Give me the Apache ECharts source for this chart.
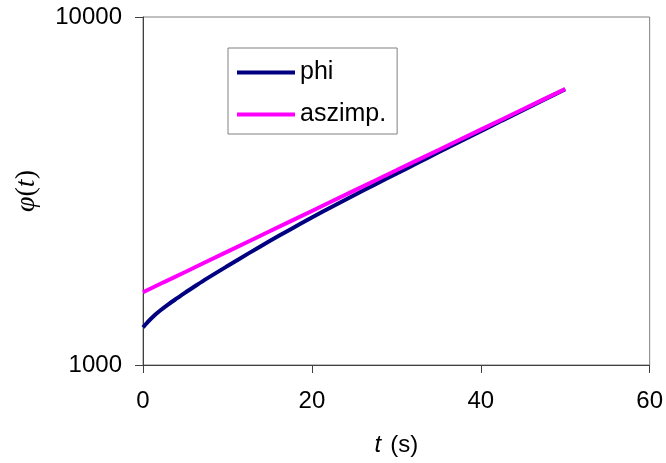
<!DOCTYPE html>
<html><head><meta charset="utf-8">
<script src="https://cdn.jsdelivr.net/npm/echarts@6/dist/echarts.min.js"></script>
<style>html,body{margin:0;padding:0;background:#fff}#c{width:666px;height:463px}</style>
</head><body><div id="c"></div>
<script>
const tValues = [0, 0.5, 1, 1.5, 2, 3, 4, 5, 6, 7.5, 10, 12.5, 15, 17.5, 20, 22.5, 25, 27.5, 30, 32.5, 35, 37.5, 40, 42.5, 45, 47.5, 50];
const phiValues = [1283, 1324, 1362, 1398, 1432, 1494, 1554, 1615, 1675, 1768, 1925, 2093, 2270, 2457, 2654, 2858, 3074, 3303, 3545, 3807, 4086, 4382, 4699, 5039, 5400, 5787, 6199];
const aszimpT = [0, 2.5, 5, 7.5, 10, 12.5, 15, 17.5, 20, 22.5, 25, 27.5, 30, 32.5, 35, 37.5, 40, 42.5, 45, 47.5, 50];
const aszimpValues = [1618, 1731, 1851, 1980, 2117, 2265, 2422, 2591, 2771, 2964, 3170, 3391, 3626, 3879, 4148, 4437, 4745, 5076, 5429, 5807, 6211];
const seriesNames = ['phi', 'aszimp.'];
const yTickLabels = { 1000: '1000', 10000: '10000' };

const chart = echarts.init(document.getElementById('c'));
const font = 'Arial, "Liberation Sans", sans-serif';
const serif = '"Liberation Serif", "DejaVu Serif", serif';
chart.setOption({
  animation: false,
  backgroundColor: '#fff',
  textStyle: { fontFamily: font, color: '#000' },
  grid: { left: 143, right: 14, top: 17, bottom: 98, show: true, borderColor: '#808080', borderWidth: 1, backgroundColor: '#fff' },
  legend: {
    left: 228, top: 48, orient: 'vertical',
    data: seriesNames,
    icon: 'rect', itemWidth: 58, itemHeight: 4, itemGap: 17,
    padding: [12, 11, 7, 9],
    borderColor: '#808080', borderWidth: 1, backgroundColor: '#fff',
    textStyle: { fontFamily: font, fontSize: 25, color: '#000', lineHeight: 25 }
  },
  xAxis: {
    type: 'value', min: 0, max: 60, interval: 20,
    axisLine: { lineStyle: { color: '#404040', width: 1 } },
    axisTick: { show: true, inside: false, length: 8, lineStyle: { color: '#404040' } },
    splitLine: { show: false },
    axisLabel: { fontSize: 24, color: '#000', margin: 24, fontFamily: font },
    name: '{i|t}{n|(s)}', nameLocation: 'middle', nameGap: 68,
    nameTextStyle: { rich: { i: { fontSize: 24, fontStyle: 'italic', fontFamily: font, color: '#000', padding: [0, 9, 0, 0] }, n: { fontSize: 24, fontFamily: font, color: '#000' } } }
  },
  yAxis: {
    type: 'log', logBase: 10, min: 1000, max: 10000,
    axisLine: { lineStyle: { color: '#404040', width: 1 } },
    axisTick: { show: true, inside: false, length: 8, lineStyle: { color: '#404040' } },
    minorTick: { show: false },
    splitLine: { show: false },
    axisLabel: { fontSize: 24, color: '#000', margin: 21, fontFamily: font,
      formatter: v => yTickLabels[Math.round(v)] || String(Math.round(v)) },
    name: '{g|φ}{n|(}{i|t}{n|)}', nameLocation: 'middle', nameGap: 102, nameRotate: 90,
    nameTextStyle: { rich: {
      g: { fontSize: 28, fontStyle: 'italic', fontFamily: serif, color: '#000' },
      i: { fontSize: 28, fontStyle: 'italic', fontFamily: serif, color: '#000' },
      n: { fontSize: 28, fontFamily: serif, color: '#000' } } }
  },
  series: [
    { name: seriesNames[0], type: 'line', symbol: 'none', smooth: 0.3, color: '#000080',
      lineStyle: { color: '#000080', width: 4 },
      data: tValues.map((t, i) => [t, phiValues[i]]) },
    { name: seriesNames[1], type: 'line', symbol: 'none', color: '#FF00FF',
      lineStyle: { color: '#FF00FF', width: 4 },
      data: aszimpT.map((t, i) => [t, aszimpValues[i]]) }
  ]
});
</script></body></html>
